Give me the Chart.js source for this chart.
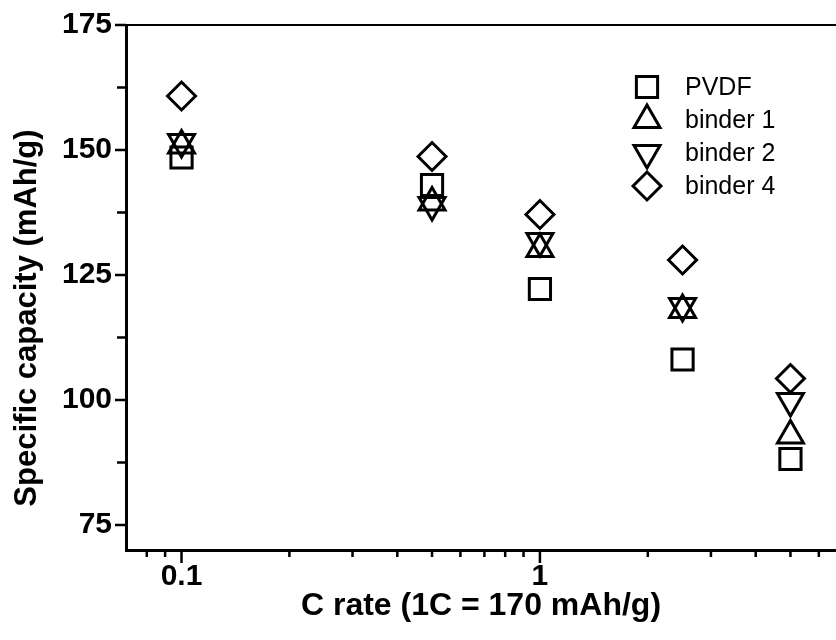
<!DOCTYPE html>
<html>
<head>
<meta charset="utf-8">
<title>Specific capacity vs C rate</title>
<script src="https://cdn.jsdelivr.net/npm/chart.js@4.4.1/dist/chart.umd.min.js"></script>
<style>
  html, body { margin: 0; padding: 0; background: #fff; }
  #wrap { width: 836px; height: 640px; }
</style>
</head>
<body>
<div id="wrap"><canvas id="chart"></canvas></div>
<script>
// values
const cRates = [0.1, 0.5, 1, 2.5, 5];
const pvdf = [148.5, 143, 122.2, 108.1, 88.2];
const binder1 = [150.9, 139.5, 130.2, 118, 92.9];
const binder2 = [151.6, 139, 131.8, 118.8, 99.8];
const binder4 = [160.8, 148.7, 137.1, 128, 104.3];
const seriesNames = ['PVDF', 'binder 1', 'binder 2', 'binder 4'];

const xMajorTicks = [0.1, 1];
const xMinorTicks = [0.08, 0.09, 0.2, 0.3, 0.4, 0.5, 0.6, 0.7, 0.8, 0.9, 2, 3, 4, 5, 6];
const yMajorTicks = [75, 100, 125, 150, 175];
const yMinorTicks = [87.5, 112.5, 137.5, 162.5];

const yTitle = 'Specific capacity (mAh/g)';
const FONT = '"Liberation Sans", Arial, Helvetica, sans-serif';

function toPoints(values) {
    return cRates.map((x, i) => ({ x: x, y: values[i] }));
}

function series(label, values, style, radius, rotation) {
    return {
        label: label,
        data: toPoints(values),
        pointStyle: style,
        pointRadius: radius,
        pointHoverRadius: radius,
        pointRotation: rotation || 0,
        pointBorderWidth: 3,
        pointBorderColor: '#000',
        pointBackgroundColor: 'rgba(0,0,0,0)',
        showLine: false
    };
}

// ticks, top frame line, y title and the inside legend
const decorations = {
    id: 'decorations',
    afterDraw(chart) {
        const ctx = chart.ctx;
        const xs = chart.scales.x;
        const ys = chart.scales.y;
        const area = chart.chartArea;
        ctx.save();
        ctx.strokeStyle = '#000';
        ctx.lineCap = 'butt';

        ctx.lineWidth = 2;
        ctx.beginPath();
        ctx.moveTo(area.left, area.top);
        ctx.lineTo(area.right, area.top);
        ctx.stroke();

        ctx.lineWidth = 2.5;
        ctx.beginPath();
        xMajorTicks.forEach(v => {
            const px = xs.getPixelForValue(v);
            ctx.moveTo(px, area.bottom);
            ctx.lineTo(px, area.bottom + 13);
        });
        xMinorTicks.forEach(v => {
            const px = xs.getPixelForValue(v);
            ctx.moveTo(px, area.bottom);
            ctx.lineTo(px, area.bottom + 7);
        });
        yMajorTicks.forEach(v => {
            const py = ys.getPixelForValue(v);
            ctx.moveTo(area.left, py);
            ctx.lineTo(area.left - 11, py);
        });
        yMinorTicks.forEach(v => {
            const py = ys.getPixelForValue(v);
            ctx.moveTo(area.left, py);
            ctx.lineTo(area.left - 9, py);
        });
        ctx.stroke();

        // y title sits a bit below the middle of the axis in the original
        ctx.save();
        ctx.translate(27, 318);
        ctx.rotate(-Math.PI / 2);
        ctx.font = 'bold 31px ' + FONT;
        ctx.fillStyle = '#000';
        ctx.textAlign = 'center';
        ctx.textBaseline = 'middle';
        ctx.fillText(yTitle, 0, 0);
        ctx.restore();

        // legend
        const legendX = 647;
        const legendTop = 87;
        const rowGap = 33;
        ctx.font = '25px ' + FONT;
        ctx.textBaseline = 'middle';
        ctx.textAlign = 'left';
        chart.data.datasets.forEach((ds, i) => {
            const y = legendTop + i * rowGap;
            ctx.lineWidth = 3;
            ctx.strokeStyle = '#000';
            ctx.fillStyle = 'rgba(0,0,0,0)';
            Chart.helpers.drawPoint(ctx, {
                pointStyle: ds.pointStyle,
                radius: ds.pointRadius,
                rotation: ds.pointRotation,
                borderWidth: 3
            }, legendX, y);
            ctx.fillStyle = '#000';
            ctx.fillText(ds.label, legendX + 38, y + 1);
        });
        ctx.restore();
    }
};

new Chart(document.getElementById('chart'), {
    type: 'scatter',
    data: {
        datasets: [
            series(seriesNames[0], pvdf, 'rect', 15),
            series(seriesNames[1], binder1, 'triangle', 15),
            series(seriesNames[2], binder2, 'triangle', 15, 180),
            series(seriesNames[3], binder4, 'rectRot', 14)
        ]
    },
    options: {
        responsive: true,
        maintainAspectRatio: false,
        animation: false,
        layout: { autoPadding: false, padding: { top: 25, right: 0, left: 0, bottom: 0 } },
        plugins: {
            legend: { display: false },
            tooltip: { enabled: false }
        },
        scales: {
            x: {
                type: 'logarithmic',
                position: 'bottom',
                min: 0.07,
                max: 6.7,
                afterBuildTicks: scale => {
                    scale.ticks = xMajorTicks.map(v => ({ value: v, major: true }));
                },
                afterFit: scale => {
                    scale.height = 90;
                    scale.paddingLeft = 0;
                    scale.paddingRight = 0;
                },
                grid: { display: false, drawTicks: false },
                border: { display: true, color: '#000', width: 3 },
                ticks: {
                    color: '#000',
                    padding: 9,
                    maxRotation: 0,
                    font: { family: FONT, size: 30, weight: 'bold' },
                    callback: v => String(v)
                },
                title: {
                    display: true,
                    text: 'C rate (1C = 170 mAh/g)',
                    color: '#000',
                    padding: { top: 0, bottom: 15 },
                    font: { family: FONT, size: 32, weight: 'bold' }
                }
            },
            y: {
                min: 70,
                max: 175,
                afterBuildTicks: scale => {
                    scale.ticks = yMajorTicks.map(v => ({ value: v }));
                },
                afterFit: scale => {
                    scale.width = 126;
                    scale.paddingTop = 0;
                    scale.paddingBottom = 0;
                },
                grid: { display: false, drawTicks: false },
                border: { display: true, color: '#000', width: 3 },
                ticks: {
                    color: '#000',
                    padding: 14,
                    font: { family: FONT, size: 30, weight: 'bold' }
                },
                title: { display: false }
            }
        }
    },
    plugins: [decorations]
});
</script>
</body>
</html>
